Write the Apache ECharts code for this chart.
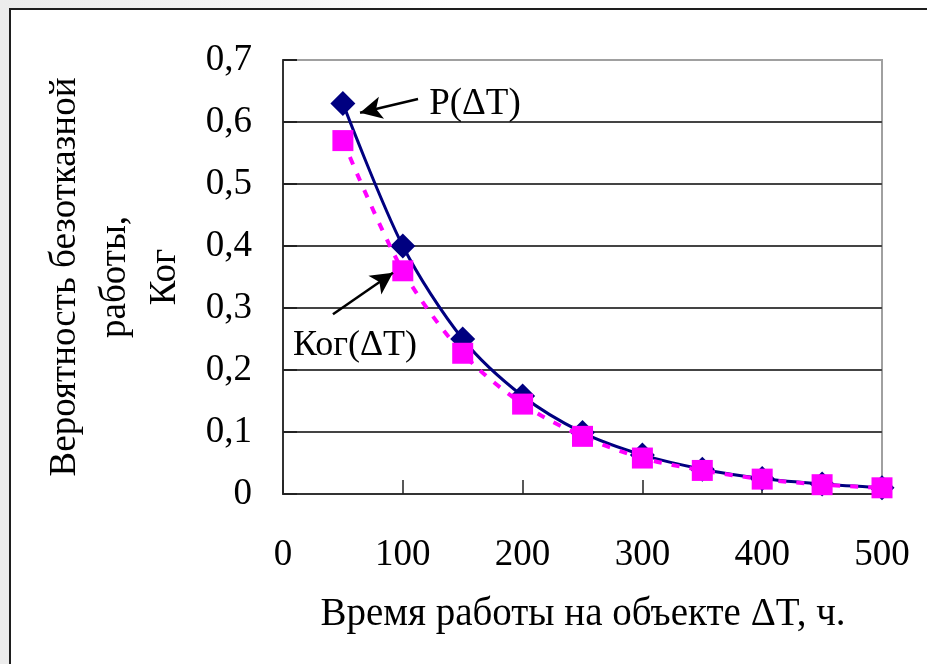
<!DOCTYPE html>
<html>
<head>
<meta charset="utf-8">
<script src="https://cdn.jsdelivr.net/npm/echarts@6/dist/echarts.min.js"></script>
<style>
  html, body { margin: 0; padding: 0; width: 927px; height: 664px; overflow: hidden;
    background: linear-gradient(90deg, #ececec 0px, #f6f6f6 300px, #ffffff 450px); }
  #frame { position: absolute; left: 9px; top: 8px; width: 940px; height: 680px;
    border-left: 2px solid #1e1e1e; border-top: 2px solid #1e1e1e; background: #fff; }
  #chart { position: absolute; left: 0; top: 0; width: 927px; height: 664px; }
</style>
</head>
<body>
<div id="frame"></div>
<div id="chart"></div>
<script>
// время работы, ч
const hours = [50, 100, 150, 200, 250, 300, 350, 400, 450, 500];
// вероятность безотказной работы P(ΔT)
const pValues = [0.63, 0.40, 0.25, 0.158, 0.099, 0.063, 0.040, 0.025, 0.016, 0.010];
// коэффициент Ког(ΔT)
const kogValues = [0.57, 0.36, 0.227, 0.145, 0.093, 0.058, 0.038, 0.024, 0.015, 0.010];
const yTickLabels = ['0', '0,1', '0,2', '0,3', '0,4', '0,5', '0,6', '0,7'];

const font = 'Liberation Serif, Times New Roman, serif';
const chart = echarts.init(document.getElementById('chart'));

const option = {
    animation: false,
    backgroundColor: 'transparent',
    grid: { left: 283, top: 60, right: 45, bottom: 170, show: true,
            borderColor: '#a0a0a0', borderWidth: 2, backgroundColor: 'transparent' },
    xAxis: {
        type: 'value', min: 0, max: 500, interval: 100,
        axisLine: { lineStyle: { color: '#333', width: 2 } },
        axisTick: { inside: true, length: 14, lineStyle: { color: '#222', width: 1.5 } },
        splitLine: { show: false },
        axisLabel: { color: '#000', fontFamily: font, fontSize: 37, margin: 43 }
    },
    yAxis: {
        type: 'value', min: 0, max: 0.7, interval: 0.1,
        axisLine: { show: true, lineStyle: { color: '#333', width: 2 } },
        axisTick: { show: true, inside: true, length: 14, lineStyle: { color: '#222', width: 2 } },
        splitLine: { lineStyle: { color: ['#444', '#444', '#444', '#444', '#444', '#444', '#444', '#a0a0a0'], width: 2 } },
        axisLabel: {
            color: '#000', fontFamily: font, fontSize: 37, margin: 31,
            formatter: (v) => yTickLabels[Math.round(v * 10)]
        }
    },
    series: [
        {
            name: 'P(ΔT)', type: 'line', smooth: 0.3,
            data: hours.map((h, i) => [h, pValues[i]]),
            symbol: 'diamond', symbolSize: 25,
            itemStyle: { color: '#000080' },
            lineStyle: { color: '#000080', width: 3 },
            z: 2,
            markLine: {
                silent: true, symbol: ['none', 'arrow'], symbolSize: [17, 22],
                label: { show: false },
                lineStyle: { color: '#000', width: 2.5, type: 'solid' },
                data: [
                    [{ coord: [112.7, 0.637] }, { coord: [64.3, 0.615] }],
                    [{ coord: [41.7, 0.290] }, { coord: [91.8, 0.357] }]
                ]
            }
        },
        {
            name: 'Ког(ΔT)', type: 'line', smooth: 0.3,
            data: hours.map((h, i) => [h, kogValues[i]]),
            symbol: 'rect', symbolSize: 21,
            itemStyle: { color: '#ff00ff' },
            lineStyle: { color: '#ff00ff', width: 4, type: [8, 10] },
            z: 3
        }
    ]
};
chart.setOption(option);

const pLabel = chart.convertToPixel({ gridIndex: 0 }, [122, 0.628]);
const kLabel = chart.convertToPixel({ gridIndex: 0 }, [8.3, 0.240]);

chart.setOption({
    graphic: [
        { type: 'text', x: pLabel[0], y: pLabel[1],
          style: { text: 'P(ΔT)', font: '37px ' + font, fill: '#000', verticalAlign: 'middle' } },
        { type: 'text', x: kLabel[0], y: kLabel[1],
          style: { text: 'Ког(ΔT)', font: '36px ' + font, fill: '#000', verticalAlign: 'middle' } },
        { type: 'text', x: 115, y: 277, rotation: Math.PI / 2,
          style: { text: 'Вероятность безотказной\nработы,\nКог', font: '37px ' + font,
                   lineHeight: 50, fill: '#000', align: 'center', verticalAlign: 'middle' } },
        { type: 'text', x: 583, y: 615,
          style: { text: 'Время работы на объекте ΔT, ч.', font: '39px ' + font,
                   fill: '#000', align: 'center', verticalAlign: 'middle' } }
    ]
});
</script>
</body>
</html>
